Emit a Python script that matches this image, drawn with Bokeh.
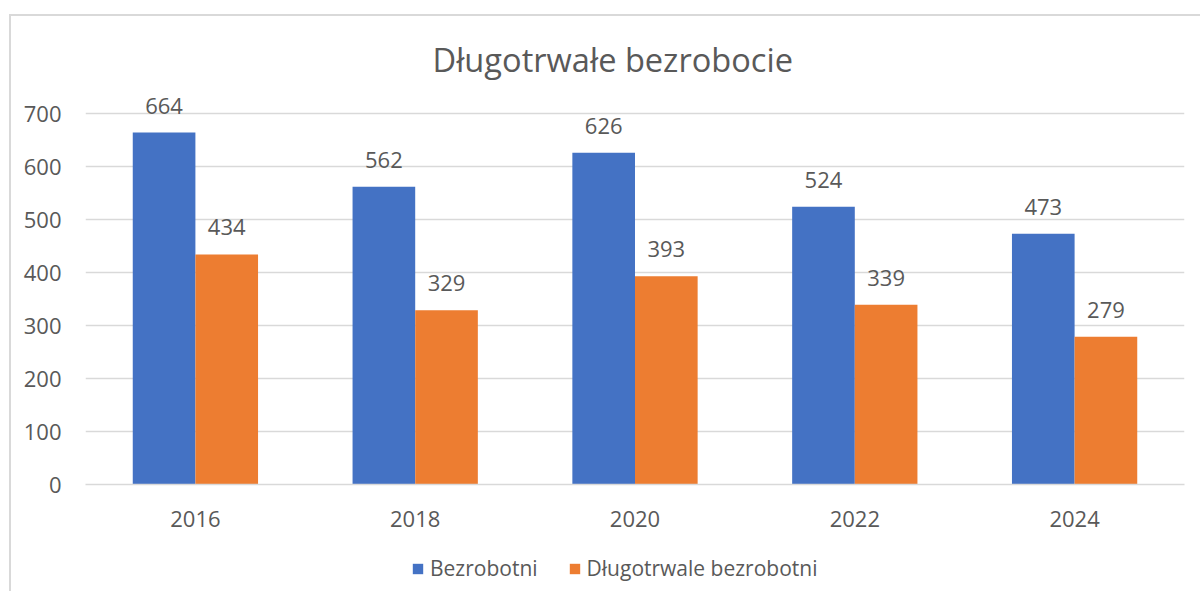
from bokeh.plotting import figure
from bokeh.models import (ColumnDataSource, Range1d, FactorRange, LabelSet,
                          Legend, LegendItem, FixedTicker)
from bokeh.layouts import column
from bokeh.transform import dodge
from bokeh.core.properties import value
from bokeh.embed import file_html
from bokeh.resources import INLINE

years = ["2016", "2018", "2020", "2022", "2024"]
bezrobotni = [664, 562, 626, 524, 473]
dlugotrwale = [434, 329, 393, 339, 279]
series_names = ["Bezrobotni", "Długotrwale bezrobotni"]
title_text = "Długotrwałe bezrobocie"
y_ticks = [0, 100, 200, 300, 400, 500, 600, 700]

FONT = "Open Sans"
TXT = "#595959"
BLUE = "#4472C4"
ORANGE = "#ED7D31"
GRID = "#d9d9d9"

src = ColumnDataSource(dict(years=years, a=bezrobotni, b=dlugotrwale,
                            la=[str(v) for v in bezrobotni],
                            lb=[str(v) for v in dlugotrwale]))

W = 1189
p = figure(width=W, height=531, x_range=FactorRange(*years), y_range=Range1d(0, 751),
           output_backend="svg", toolbar_location=None, title=title_text,
           min_border_left=74, min_border_right=16, min_border_top=70, min_border_bottom=63)
p.outline_line_color = None
p.background_fill_color = "white"
p.border_fill_color = "white"

p.title.align = "left"
p.title.text_font = FONT
p.title.text_font_size = "32.6px"
p.title.text_font_style = "normal"
p.title.text_color = TXT
p.title.standoff = 10
p.title.offset = 347

bw = 0.285
r1 = p.vbar(x=dodge("years", -bw / 2, range=p.x_range), top="a", width=bw, source=src,
            fill_color=BLUE, line_color=None)
r2 = p.vbar(x=dodge("years", bw / 2, range=p.x_range), top="b", width=bw, source=src,
            fill_color=ORANGE, line_color=None)

for col, lab, off in (("a", "la", -bw / 2), ("b", "lb", bw / 2)):
    p.add_layout(LabelSet(x=dodge("years", off, range=p.x_range), y=col, text=lab, source=src,
                          text_align="center", text_baseline="bottom", y_offset=19,
                          text_font=value(FONT), text_font_size=value("22px"), text_color=TXT))

p.yaxis.ticker = FixedTicker(ticks=y_ticks)
p.yaxis.axis_line_color = None
p.yaxis.major_tick_line_color = None
p.yaxis.minor_tick_line_color = None
p.yaxis.major_label_standoff = 18
p.yaxis.major_label_text_font = FONT
p.yaxis.major_label_text_font_size = "22px"
p.yaxis.major_label_text_color = TXT

p.xaxis.axis_line_color = GRID
p.xaxis.axis_line_width = 1.5
p.xaxis.major_tick_line_color = None
p.xaxis.minor_tick_line_color = None
p.xaxis.major_label_standoff = 20
p.xaxis.major_label_text_font = FONT
p.xaxis.major_label_text_font_size = "22px"
p.xaxis.major_label_text_color = TXT

p.xgrid.grid_line_color = None
p.ygrid.grid_line_color = GRID
p.ygrid.grid_line_width = 1.5
p.ygrid.ticker = FixedTicker(ticks=y_ticks)

# legend strip below the chart (its bars lie outside its visible ranges)
p2 = figure(width=W, height=44, x_range=FactorRange(*series_names), y_range=Range1d(-1000, -999),
            output_backend="svg", toolbar_location=None,
            min_border_left=0, min_border_right=0, min_border_top=0, min_border_bottom=0)
p2.axis.visible = False
p2.grid.grid_line_color = None
p2.outline_line_color = None
p2.border_fill_color = "white"
p2.background_fill_color = "white"
l1 = p2.vbar(x="years", top="a", width=bw, source=src, fill_color=BLUE, line_color=None)
l2 = p2.vbar(x="years", top="b", width=bw, source=src, fill_color=ORANGE, line_color=None)

legend = Legend(items=[LegendItem(label=series_names[0], renderers=[l1]),
                       LegendItem(label=series_names[1], renderers=[l2])],
                orientation="horizontal", location=(326, 9),
                label_text_font=FONT, label_text_font_size="21px", label_text_color=TXT,
                glyph_width=13, glyph_height=13, spacing=30, label_standoff=6,
                border_line_color=None, background_fill_alpha=0, margin=0, padding=4)
p2.add_layout(legend)

layout = column(p, p2, spacing=0,
                styles={"margin-left": "9px", "margin-top": "14px",
                        "border-left": "2px solid " + GRID, "border-top": "2px solid " + GRID})

open("out.html", "w").write(file_html(layout, INLINE))
